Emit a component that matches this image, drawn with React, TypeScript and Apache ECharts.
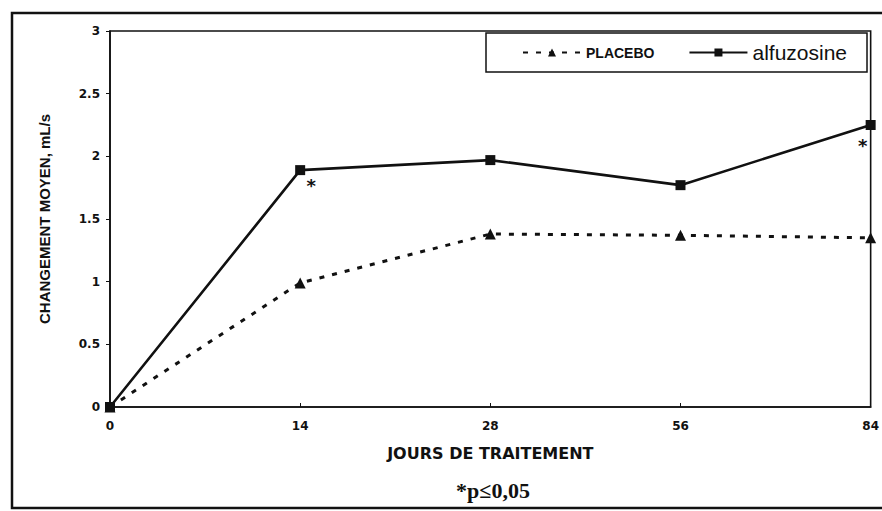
import React, { useEffect, useRef } from "react";
import * as echarts from "echarts";

const days = ["0", "14", "28", "56", "84"];
const placebo = [0, 0.99, 1.38, 1.37, 1.35];
const alfuzosine = [0, 1.89, 1.97, 1.77, 2.25];
const significant = [false, true, false, false, true];
const yTicks = { min: 0, max: 3, interval: 0.5 };

export default function App() {
  const ref = useRef<HTMLDivElement>(null);
  useEffect(() => {
    if (!ref.current) return;
    const chart = echarts.init(ref.current, null, { renderer: "svg" });
    const starOffsets: Record<number, [number, number]> = { 1: [11, 15], 4: [-8, 20] };
    chart.setOption({
      animation: false,
      backgroundColor: "#ffffff",
      grid: {
        left: 110,
        right: 10,
        top: 31,
        bottom: 104,
        show: true,
        borderColor: "#111",
        borderWidth: 1.6,
      },
      legend: {
        left: 486,
        top: 33,
        itemWidth: 58,
        itemHeight: 10,
        itemGap: 34,
        padding: [9, 20, 9, 36],
        borderColor: "#111",
        borderWidth: 1.5,
        backgroundColor: "#fff",
        data: [
          {
            name: "PLACEBO",
            textStyle: {
              fontFamily: "Liberation Sans, Arial, sans-serif",
              fontWeight: "bold",
              fontSize: 14,
              color: "#111",
            },
          },
          {
            name: "alfuzosine",
            textStyle: {
              fontFamily: "Liberation Sans, Arial, sans-serif",
              fontSize: 21,
              color: "#111",
            },
          },
        ],
      },
      xAxis: {
        type: "category",
        data: days,
        boundaryGap: false,
        name: "JOURS DE TRAITEMENT",
        nameLocation: "middle",
        nameGap: 38,
        nameTextStyle: {
          fontFamily: "DejaVu Sans, sans-serif",
          fontWeight: "bold",
          fontSize: 16,
          color: "#111",
        },
        axisLine: { lineStyle: { color: "#111", width: 1.6 } },
        axisTick: { show: true, alignWithLabel: true, inside: true, length: 4, lineStyle: { color: "#111" } },
        axisLabel: {
          fontFamily: "DejaVu Sans, sans-serif",
          fontWeight: "bold",
          fontSize: 12,
          color: "#111",
          margin: 13,
          interval: 0,
        },
        splitLine: { show: false },
      },
      yAxis: {
        type: "value",
        min: yTicks.min,
        max: yTicks.max,
        interval: yTicks.interval,
        name: "CHANGEMENT MOYEN, mL/s",
        nameLocation: "middle",
        nameGap: 58,
        nameRotate: 90,
        nameTextStyle: {
          fontFamily: "Liberation Sans, Arial, sans-serif",
          fontWeight: "bold",
          fontSize: 15,
          color: "#111",
        },
        axisLine: { show: true, lineStyle: { color: "#111", width: 1.6 } },
        axisTick: { show: true, length: 4, lineStyle: { color: "#111" } },
        axisLabel: {
          fontFamily: "DejaVu Sans, sans-serif",
          fontWeight: "bold",
          fontSize: 12,
          color: "#111",
          margin: 10,
        },
        splitLine: { show: false },
      },
      series: [
        {
          name: "PLACEBO",
          type: "line",
          data: placebo,
          symbol: "triangle",
          symbolSize: 11,
          showAllSymbol: true,
          itemStyle: { color: "#111" },
          lineStyle: { color: "#111", width: 3, type: [5, 8] },
          z: 2,
        },
        {
          name: "alfuzosine",
          type: "line",
          data: alfuzosine.map((v, i) =>
            significant[i]
              ? {
                  value: v,
                  label: {
                    show: true,
                    formatter: "*",
                    position: "inside",
                    offset: starOffsets[i] || [10, 15],
                    fontFamily: "DejaVu Sans, sans-serif",
                    fontWeight: "bold",
                    fontSize: 18,
                    color: "#111",
                  },
                }
              : v
          ),
          symbol: "rect",
          symbolSize: 10,
          showAllSymbol: true,
          itemStyle: { color: "#111" },
          lineStyle: { color: "#111", width: 2.6 },
          z: 3,
        },
      ],
      graphic: [
        {
          type: "rect",
          shape: { x: 12, y: 13, width: 880, height: 495 },
          style: { fill: "none", stroke: "#111", lineWidth: 2.5 },
          silent: true,
        },
        {
          type: "text",
          x: 493,
          y: 490,
          style: {
            text: "*p\u22640,05",
            fontFamily: "Liberation Serif, DejaVu Serif, serif",
            fontWeight: "bold",
            fontSize: 22,
            fill: "#111",
            align: "center",
            verticalAlign: "middle",
          },
        },
      ],
    });
    return () => chart.dispose();
  }, []);
  return (
    <div
      ref={ref}
      style={{ position: "absolute", left: 0, top: 0, width: 882, height: 511 }}
    />
  );
}
